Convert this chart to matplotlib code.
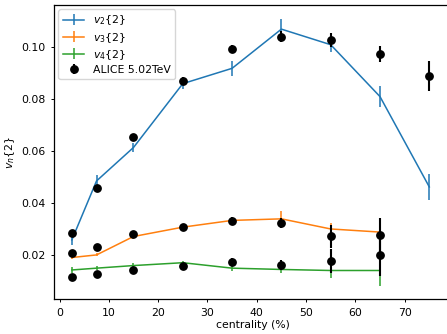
import matplotlib
matplotlib.use("Agg")
import matplotlib.pyplot as plt

plt.rcParams['font.size'] = 7.8
plt.rcParams['axes.linewidth'] = 0.9
plt.rcParams['xtick.major.size'] = 2.5
plt.rcParams['ytick.major.size'] = 2.5
plt.rcParams['xtick.major.width'] = 0.7
plt.rcParams['ytick.major.width'] = 0.7

# model curves
cent_v2 = [2.5, 7.5, 15, 25, 35, 45, 55, 65, 75]
v2 = [0.0258, 0.0485, 0.0614, 0.0860, 0.0919, 0.1070, 0.1010, 0.0810, 0.0462]
v2_err = [0.0020, 0.0023, 0.0016, 0.0020, 0.0030, 0.0038, 0.0027, 0.0039, 0.0049]

cent_v34 = [2.5, 7.5, 15, 25, 35, 45, 55, 65]
v3 = [0.0190, 0.0200, 0.0271, 0.0307, 0.0333, 0.0339, 0.0300, 0.0288]
v3_err = [0.0006, 0.0006, 0.0008, 0.0010, 0.0012, 0.0029, 0.0024, 0.0030]
v4 = [0.0142, 0.0149, 0.0159, 0.0170, 0.0149, 0.0144, 0.0140, 0.0140]
v4_err = [0.0012, 0.0008, 0.0008, 0.0008, 0.0010, 0.0012, 0.0028, 0.0060]

# ALICE data
alice_cent_v2 = [2.5, 7.5, 15, 25, 35, 45, 55, 65, 75]
alice_v2 = [0.0286, 0.0457, 0.0656, 0.0872, 0.0993, 0.1041, 0.1029, 0.0975, 0.0890]
alice_v2_err = [0.0008, 0.0010, 0.0010, 0.0012, 0.0014, 0.0020, 0.0026, 0.0030, 0.0057]
alice_cent_v34 = [2.5, 7.5, 15, 25, 35, 45, 55, 65]
alice_v3 = [0.0209, 0.0232, 0.0281, 0.0309, 0.0332, 0.0324, 0.0271, 0.0277]
alice_v3_err = [0.0006, 0.0008, 0.0010, 0.0012, 0.0015, 0.0020, 0.0045, 0.0065]
alice_v4 = [0.0116, 0.0127, 0.0140, 0.0158, 0.0172, 0.0161, 0.0177, 0.0200]
alice_v4_err = [0.0008, 0.0010, 0.0010, 0.0012, 0.0015, 0.0020, 0.0045, 0.0080]

fig = plt.figure(figsize=(4.47, 3.34), dpi=100)
ax = fig.add_axes([54/447, (334-299.3)/334, (451-54)/447, (299.3-5)/334])

lw = 1.1
ax.errorbar(cent_v2, v2, yerr=v2_err, color='C0', lw=lw, elinewidth=lw, label=r'$v_2\{2\}$')
ax.errorbar(cent_v34, v3, yerr=v3_err, color='C1', lw=lw, elinewidth=lw, label=r'$v_3\{2\}$')
ax.errorbar(cent_v34, v4, yerr=v4_err, color='C2', lw=lw, elinewidth=lw, label=r'$v_4\{2\}$')

ms = 5.3
ax.errorbar(alice_cent_v2, alice_v2, yerr=alice_v2_err, fmt='o', color='k', ms=ms, elinewidth=1.5,
            label='ALICE 5.02TeV', zorder=3)
ax.errorbar(alice_cent_v34, alice_v3, yerr=alice_v3_err, fmt='o', color='k', ms=ms, elinewidth=1.5, zorder=3)
ax.errorbar(alice_cent_v34, alice_v4, yerr=alice_v4_err, fmt='o', color='k', ms=ms, elinewidth=1.5, zorder=3)

ax.set_xlim(-1.125, 79.4)
ax.set_ylim(0.0029, 0.1163)
ax.set_xticks([0, 10, 20, 30, 40, 50, 60, 70])
ax.set_yticks([0.02, 0.04, 0.06, 0.08, 0.10])
ax.set_xlabel('centrality (%)', labelpad=2)
ax.set_ylabel(r'$v_n\{2\}$', labelpad=3)
ax.legend(loc='upper left', handlelength=2.0, borderaxespad=0.4, labelspacing=0.3)

fig.savefig('out.png', dpi=100)
